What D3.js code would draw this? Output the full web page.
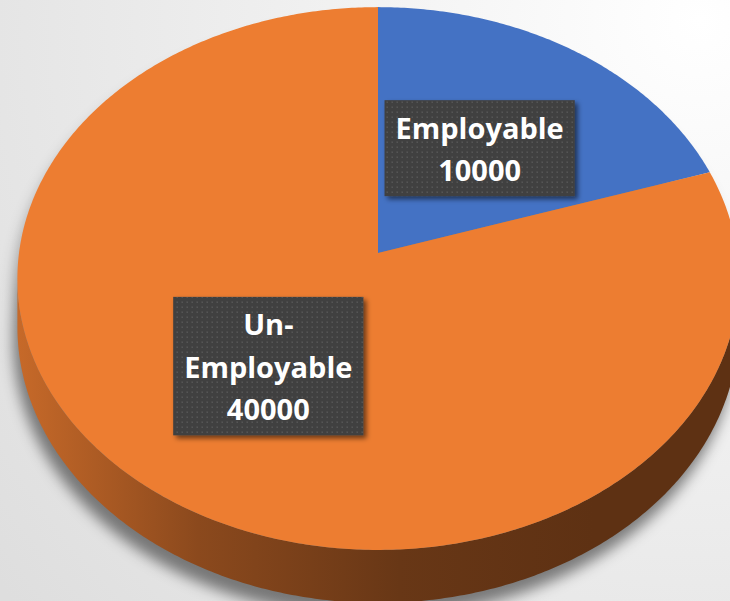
<!DOCTYPE html>
<html>
<head>
<meta charset="utf-8">
<script src="https://cdn.jsdelivr.net/npm/d3@7"></script>
<style>
  html, body { margin: 0; padding: 0; background: #eee; }
  svg { display: block; }
</style>
</head>
<body>
<div id="chart"></div>
<script>
const categories = ['Employable', 'Un-Employable']
const values = [10000, 40000]
const colors = ['#4472C4', '#ED7D31']

const width = 730
const height = 601

// perspective pie settings
const cx = 378
const cy = 253
const rx = 359
const ry = 269
const k = 0.094 // perspective strength
const depth = 48

function project(a, r, drop) {
  const u = Math.sin(a) * r
  const v = Math.cos(a) * r
  const s = 1 / (1 + k * v)
  return [cx + rx * u * s, cy - ry * v * s + (drop || 0) * s]
}

function arcPoints(a0, a1, drop) {
  const n = Math.max(2, Math.ceil(Math.abs(a1 - a0) / 0.01))
  return d3.range(n + 1).map(i => project(a0 + (a1 - a0) * i / n, 1, drop))
}

const line = d3.line()

const svg = d3
  .select('#chart')
  .append('svg')
  .attr('width', width)
  .attr('height', height)

const defs = svg.append('defs')

const bg = defs
  .append('radialGradient')
  .attr('id', 'bg')
  .attr('gradientUnits', 'userSpaceOnUse')
  .attr('cx', 700)
  .attr('cy', 20)
  .attr('r', 900)
bg.append('stop').attr('offset', 0).attr('stop-color', '#ffffff')
bg.append('stop').attr('offset', 0.5).attr('stop-color', '#eeeeee')
bg.append('stop').attr('offset', 1).attr('stop-color', '#dedede')

defs
  .append('filter')
  .attr('id', 'pieShadow')
  .attr('x', '-20%')
  .attr('y', '-20%')
  .attr('width', '140%')
  .attr('height', '140%')
  .append('feGaussianBlur')
  .attr('stdDeviation', 7)

const boxShadow = defs
  .append('filter')
  .attr('id', 'boxShadow')
  .attr('x', '-20%')
  .attr('y', '-20%')
  .attr('width', '140%')
  .attr('height', '140%')
boxShadow
  .append('feDropShadow')
  .attr('dx', 3)
  .attr('dy', 3)
  .attr('stdDeviation', 2.5)
  .attr('flood-color', '#000')
  .attr('flood-opacity', 0.55)

const dots = defs
  .append('pattern')
  .attr('id', 'dots')
  .attr('patternUnits', 'userSpaceOnUse')
  .attr('width', 5)
  .attr('height', 5)
dots.append('rect').attr('width', 5).attr('height', 5).attr('fill', '#404040')
dots
  .append('rect')
  .attr('x', 1.5)
  .attr('y', 1.5)
  .attr('width', 1.4)
  .attr('height', 1.4)
  .attr('fill', '#595959')

svg
  .append('rect')
  .attr('width', width)
  .attr('height', height)
  .attr('fill', 'url(#bg)')

const slices = d3
  .pie()
  .sort(null)
  .value(d => d)(values)

// visible front of the side wall
const sideStart = Math.acos(-k)
const sideEnd = 2 * Math.PI - sideStart

// soft shadow under the pie
const shadow = svg
  .append('g')
  .attr('filter', 'url(#pieShadow)')
  .attr('transform', 'translate(-4,14)')
  .attr('fill', '#000')
  .attr('fill-opacity', 0.28)
shadow.append('path').attr('d', line(arcPoints(0, 2 * Math.PI, 0)) + 'Z')
shadow.append('path').attr('d', line(arcPoints(0, 2 * Math.PI, depth)) + 'Z')
shadow
  .append('path')
  .attr('d', line(arcPoints(sideStart, sideEnd, 0).concat(arcPoints(sideEnd, sideStart, depth))) + 'Z')

// side walls
slices.forEach(function(d, i) {
  const lo = Math.max(d.startAngle, sideStart)
  const hi = Math.min(d.endAngle, sideEnd)
  if (lo >= hi) return
  const c = d3.color(colors[i])
  const grad = defs
    .append('linearGradient')
    .attr('id', 'side' + i)
    .attr('gradientUnits', 'userSpaceOnUse')
    .attr('x1', cx - rx)
    .attr('x2', cx + rx)
    .attr('y1', 0)
    .attr('y2', 0)
  const stops = [[0, 0.5], [0.25, 1.5], [0.53, 2.3], [0.8, 2.6], [1, 2.6]]
  stops.forEach(s => {
    grad
      .append('stop')
      .attr('offset', s[0])
      .attr('stop-color', c.darker(s[1]).formatHex())
  })
  const pts = arcPoints(lo, hi, 0).concat(arcPoints(hi, lo, depth))
  svg
    .append('path')
    .attr('d', line(pts) + 'Z')
    .attr('fill', 'url(#side' + i + ')')
})

// top faces
svg
  .selectAll('.slice')
  .data(slices)
  .enter()
  .append('path')
  .attr('class', 'slice')
  .attr('d', d => line([[cx, cy]].concat(arcPoints(d.startAngle, d.endAngle, 0))) + 'Z')
  .attr('fill', (d, i) => colors[i])

// data labels
const lineH = 42.5
slices.forEach(function(d, i) {
  const mid = (d.startAngle + d.endAngle) / 2
  const pos = project(mid, 0.5, 0)
  const g = svg.append('g')
  const box = g.append('rect').attr('fill', 'url(#dots)').attr('filter', 'url(#boxShadow)')

  const txt = g
    .append('text')
    .attr('text-anchor', 'middle')
    .attr('fill', '#fff')
    .style('font-family', '"Open Sans", Lato, sans-serif')
    .style('font-weight', 'bold')
    .style('font-size', '29px')

  // wrap the category after the hyphen if it is too wide
  let lines = [categories[i]]
  const probe = txt.append('tspan').text(categories[i])
  if (probe.node().getComputedTextLength() > 190 && categories[i].indexOf('-') > 0) {
    const cut = categories[i].indexOf('-') + 1
    lines = [categories[i].slice(0, cut), categories[i].slice(cut)]
  }
  probe.remove()
  lines.push(String(values[i]))

  const h = lines.length * lineH + 11
  const top = pos[1] - h / 2
  let maxW = 0
  lines.forEach((l, j) => {
    const t = txt
      .append('tspan')
      .attr('x', pos[0])
      .attr('y', top + 38.5 + j * lineH)
      .text(l)
    maxW = Math.max(maxW, t.node().getComputedTextLength())
  })
  const w = maxW + 22
  box
    .attr('x', pos[0] - w / 2)
    .attr('y', top)
    .attr('width', w)
    .attr('height', h)
})
</script>
</body>
</html>
